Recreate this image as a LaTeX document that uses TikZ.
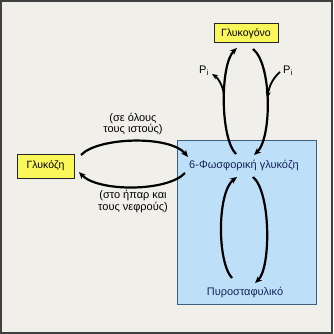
\documentclass[tikz,border=0pt]{standalone}
\usepackage{fontspec}
\setmainfont{Liberation Sans}
\usetikzlibrary{arrows.meta}
\definecolor{bg}{HTML}{F0EFEA}
\definecolor{boxblue}{HTML}{BDDFF7}
\definecolor{boxedge}{HTML}{3F5F80}
\definecolor{yel}{HTML}{FAF75A}
\definecolor{navy}{HTML}{14235A}
\begin{document}
\begin{tikzpicture}[x=1pt,y=-1pt,
  ybox/.style={draw=black!85,line width=1pt,fill=yel,inner sep=0pt,font=\fontsize{10.5}{12}\selectfont},
  lbl/.style={font=\fontsize{11}{11.5}\selectfont,align=center,inner sep=0pt},
  arr/.style={line width=2.2pt,-{Stealth[length=7pt,width=6pt]}},
  pline/.style={line width=1.8pt}]
\fill[bg] (0,0) rectangle (333,334);
\draw[black!75,line width=1.6pt] (0.8,0.8) rectangle (332.2,333.2);
\useasboundingbox (0,0) rectangle (333,334);
\draw[boxedge,fill=boxblue,line width=1pt] (177,140) rectangle (316,304);
\node[ybox,minimum width=57pt,minimum height=24pt] (glc) at (45.5,166) {Γλυκόζη};
\node[ybox,minimum width=64pt,minimum height=19pt] (glg) at (246,33.5) {Γλυκογόνο};
\node[lbl,text=navy] (g6p) at (244,165) {6-Φωσφορική γλυκόζη};
\node[lbl,text=navy] (pyr) at (245,292) {Πυροσταφυλικό};
\node[lbl] (t1) at (133,124) {(σε όλους\\τους ιστούς)};
\node[lbl] (t2) at (133,201.5) {(στο ήπαρ και\\τους νεφρούς)};
\node[lbl] (pl) at (204,71) {P\textsubscript{i}};
\node[lbl] (pr) at (288,71) {P\textsubscript{i}};
% horizontal arcs
\draw[arr] ([shift={(35.5,-11)}]glc.center) .. controls (98,137) and (170,135) .. ([shift={(-56,-8)}]g6p.center);
\draw[arr] ([shift={(-59,8)}]g6p.center) .. controls (167,192) and (98,192) .. ([shift={(33.5,6)}]glc.center);
% upper vertical arcs
\draw[arr] ([shift={(-8,-11)}]g6p.center) .. controls (220,138) and (220,64) .. ([shift={(-9,14.5)}]glg.center);
\draw[arr] ([shift={(7,15.5)}]glg.center) .. controls (272,64) and (272,138) .. ([shift={(10,-10)}]g6p.center);
% lower vertical arcs
\draw[arr] ([shift={(-13,-14)}]pyr.center) .. controls (217,262) and (217,192) .. ([shift={(-7,12)}]g6p.center);
\draw[arr] ([shift={(9,12)}]g6p.center) .. controls (271,192) and (271,268) .. ([shift={(10,-9)}]pyr.center);
% Pi branches
\draw[pline,-{Stealth[length=6pt,width=5pt]}] (224,94) .. controls (222,84) and (218,78) .. ([shift={(8,3)}]pl.center);
\draw[pline,-{Stealth[length=6pt,width=5pt]}] ([shift={(-8,1)}]pr.center) .. controls (273,78) and (269,86) .. (267.5,98);
\end{tikzpicture}
\end{document}
